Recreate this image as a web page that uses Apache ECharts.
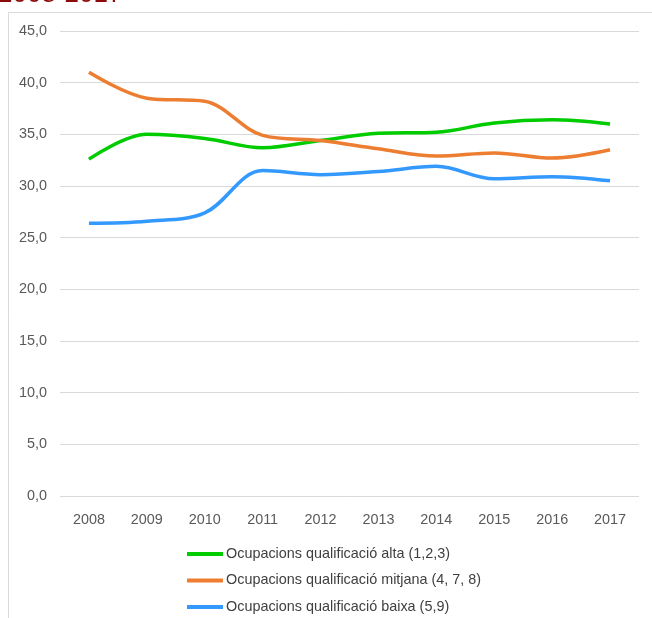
<!DOCTYPE html>
<html>
<head>
<meta charset="utf-8">
<script src="https://cdn.jsdelivr.net/npm/echarts@6/dist/echarts.min.js"></script>
<style>
  html, body { margin: 0; padding: 0; background: #fff; }
  #chart { width: 652px; height: 618px; }
</style>
</head>
<body>
<div id="chart"></div>
<script>
// anys
var years = ['2008', '2009', '2010', '2011', '2012', '2013', '2014', '2015', '2016', '2017'];
// series
var altaName = 'Ocupacions qualificació alta (1,2,3)';
var altaValues = [32.6, 35.0, 34.6, 33.7, 34.4, 35.1, 35.2, 36.1, 36.4, 36.0];
var mitjanaName = 'Ocupacions qualificació mitjana (4, 7, 8)';
var mitjanaValues = [41.0, 38.5, 38.2, 34.9, 34.4, 33.6, 32.9, 33.2, 32.7, 33.5];
var baixaName = 'Ocupacions qualificació baixa (5,9)';
var baixaValues = [26.4, 26.6, 27.4, 31.5, 31.1, 31.4, 31.9, 30.7, 30.9, 30.5];

var chart = echarts.init(document.getElementById('chart'));

function lineSeries(name, data, color) {
    return {
        name: name,
        type: 'line',
        data: data,
        smooth: 0.35,
        symbol: 'none',
        lineStyle: { color: color, width: 3.5 },
        itemStyle: { color: color }
    };
}

chart.setOption({
    animation: false,
    textStyle: { fontFamily: 'Liberation Sans' },
    graphic: [
        {
            // marc del gràfic
            type: 'rect',
            shape: { x: 8.5, y: 12.5, width: 700, height: 700 },
            style: { fill: 'none', stroke: '#d9d9d9', lineWidth: 1 }
        },
        {
            // títol retallat
            type: 'text',
            left: -2,
            top: -18,
            style: { text: '2008-2017', fill: '#8b0a0a', font: '26px "Liberation Sans"' }
        }
    ],
    grid: { left: 60, right: 13, top: 31, bottom: 122 },
    legend: {
        orient: 'vertical',
        left: 187,
        top: 546,
        height: 80,
        padding: 0,
        itemWidth: 36,
        itemHeight: 4,
        itemGap: 10.5,
        icon: 'rect',
        textStyle: { color: '#404040', fontSize: 14.4, lineHeight: 16, padding: [0, 0, 0, -2] },
        data: [altaName, mitjanaName, baixaName]
    },
    xAxis: {
        type: 'category',
        data: years,
        axisLine: { show: false },
        axisTick: { show: false },
        axisLabel: { color: '#595959', fontSize: 14.4, margin: 17 }
    },
    yAxis: {
        type: 'value',
        min: 0,
        max: 45,
        interval: 5,
        axisLine: { show: false },
        axisTick: { show: false },
        splitLine: { lineStyle: { color: '#d9d9d9', width: 1 } },
        axisLabel: {
            color: '#595959',
            fontSize: 14.4,
            margin: 13,
            formatter: function (v) { return v.toFixed(1).replace('.', ','); }
        }
    },
    series: [
        lineSeries(altaName, altaValues, '#00cc00'),
        lineSeries(mitjanaName, mitjanaValues, '#ed7d31'),
        lineSeries(baixaName, baixaValues, '#3399ff')
    ]
});
</script>
</body>
</html>
